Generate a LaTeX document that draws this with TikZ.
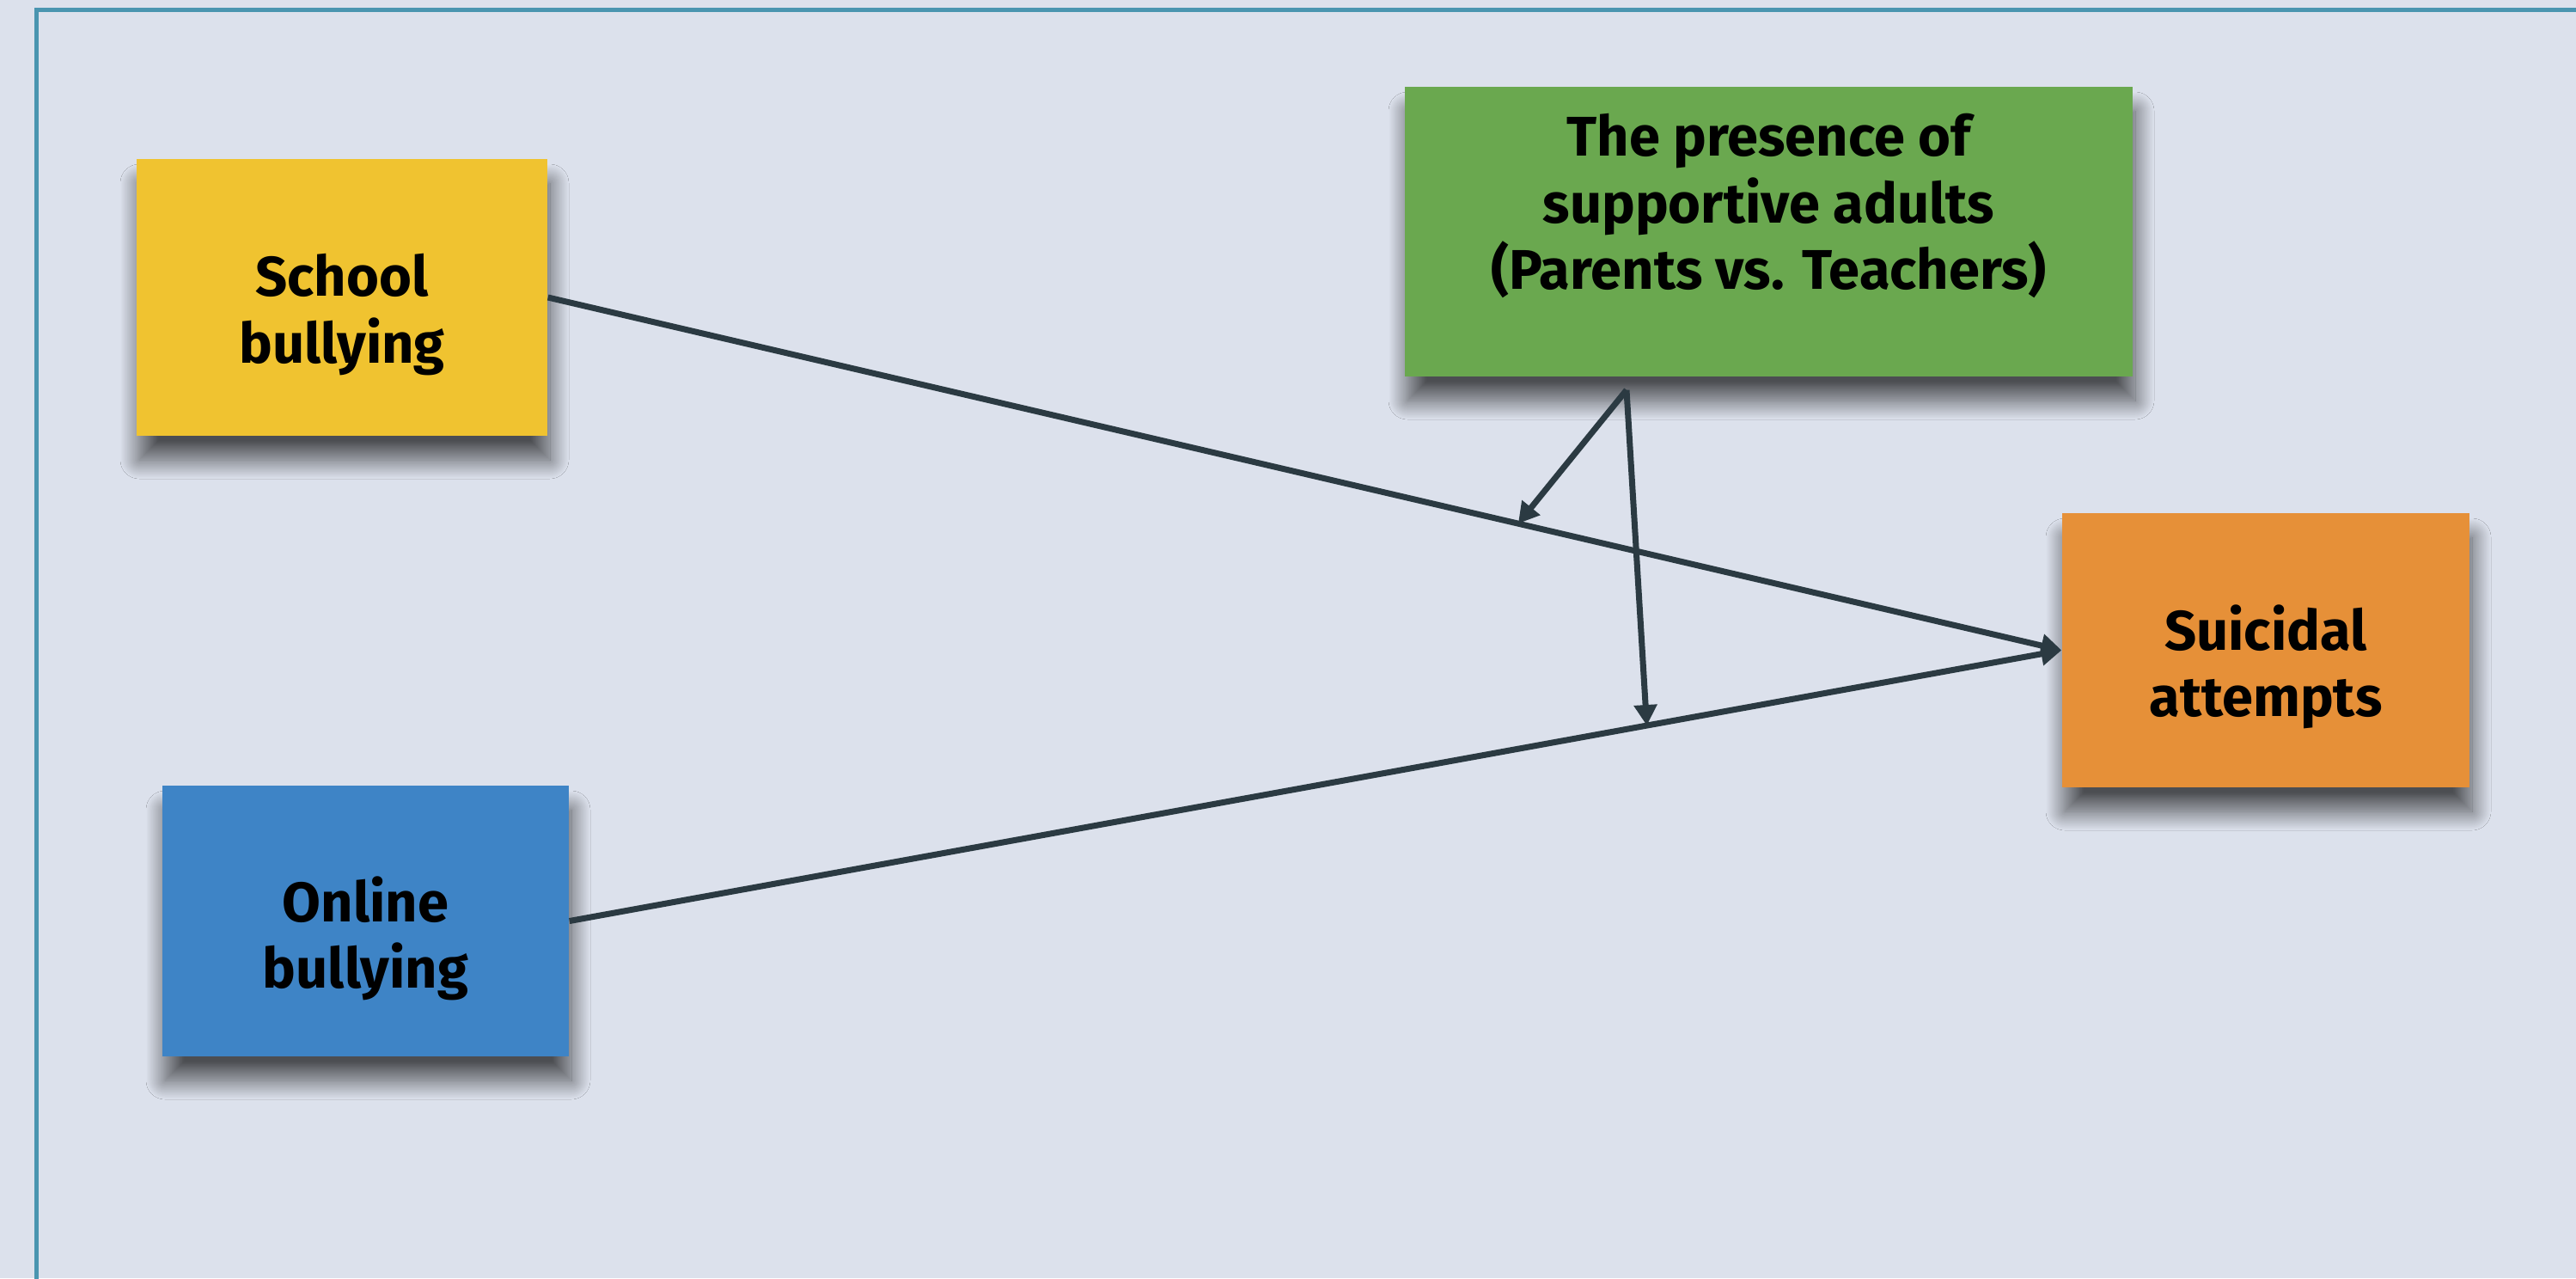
\documentclass[tikz,border=0pt]{standalone}
\usepackage{fontspec}
\setmainfont{Fira Sans}
\usetikzlibrary{arrows.meta,calc,shadows.blur}
\definecolor{canvas}{HTML}{DCE1EC}
\definecolor{frame}{HTML}{4A95B0}
\definecolor{schoolcol}{HTML}{F0C330}
\definecolor{onlinecol}{HTML}{3E84C6}
\definecolor{adultcol}{HTML}{6AA84F}
\definecolor{suicidecol}{HTML}{E69038}
\definecolor{linkcol}{HTML}{2B3A42}
\tikzset{
  box/.style={inner sep=0pt,
    blur shadow={shadow xshift=0.3mm, shadow yshift=-2.8mm,
      shadow blur radius=2.2mm, shadow blur steps=30, shadow opacity=65}},
  txt/.style={align=center, text=black,
    font=\bfseries\fontsize{18.5}{22}\selectfont},
  link/.style={draw=linkcol, line width=0.7mm, ->},
}
\begin{document}
\begin{tikzpicture}[x=0.1mm,y=-0.1mm,>={Triangle[length=2.4mm,width=2.6mm]}]
\fill[canvas] (0,0) rectangle (2998,1487);
\clip (0,0) rectangle (2998,1487);
\draw[frame, line width=0.5mm] (42,11) rectangle (3100,1600);
% the four boxes
\node[box, fill=schoolcol, minimum width=47.8mm, minimum height=32.2mm,
  label={[txt, yshift=-2mm]center:{School\\bullying}}] (school) at (398,346) {};
\node[box, fill=onlinecol, minimum width=47.3mm, minimum height=31.5mm,
  label={[txt, yshift=-2mm]center:{Online\\bullying}}] (online) at (425.5,1071.5) {};
\node[box, fill=adultcol, minimum width=84.7mm, minimum height=33.7mm,
  label={[txt, yshift=3mm]center:{The presence of\\supportive adults\\(Parents vs. Teachers)}}] (adults) at (2058.5,269.5) {};
\node[box, fill=suicidecol, minimum width=47.4mm, minimum height=31.9mm,
  label={[txt, yshift=-1.9mm]center:{Suicidal\\attempts}}] (suicide) at (2637,756.5) {};
% paths
\coordinate (mod) at ([shift={(-165.5,15)}]adults.south);
\draw[link] (school.east) -- (suicide.west);
\draw[link] (online.east) -- (suicide.west);
\draw[link] (mod) -- ($(school.east)!0.641!(suicide.west)$);
\draw[link] (mod) -- ($(online.east)!0.722!(suicide.west)$);
\end{tikzpicture}
\end{document}
